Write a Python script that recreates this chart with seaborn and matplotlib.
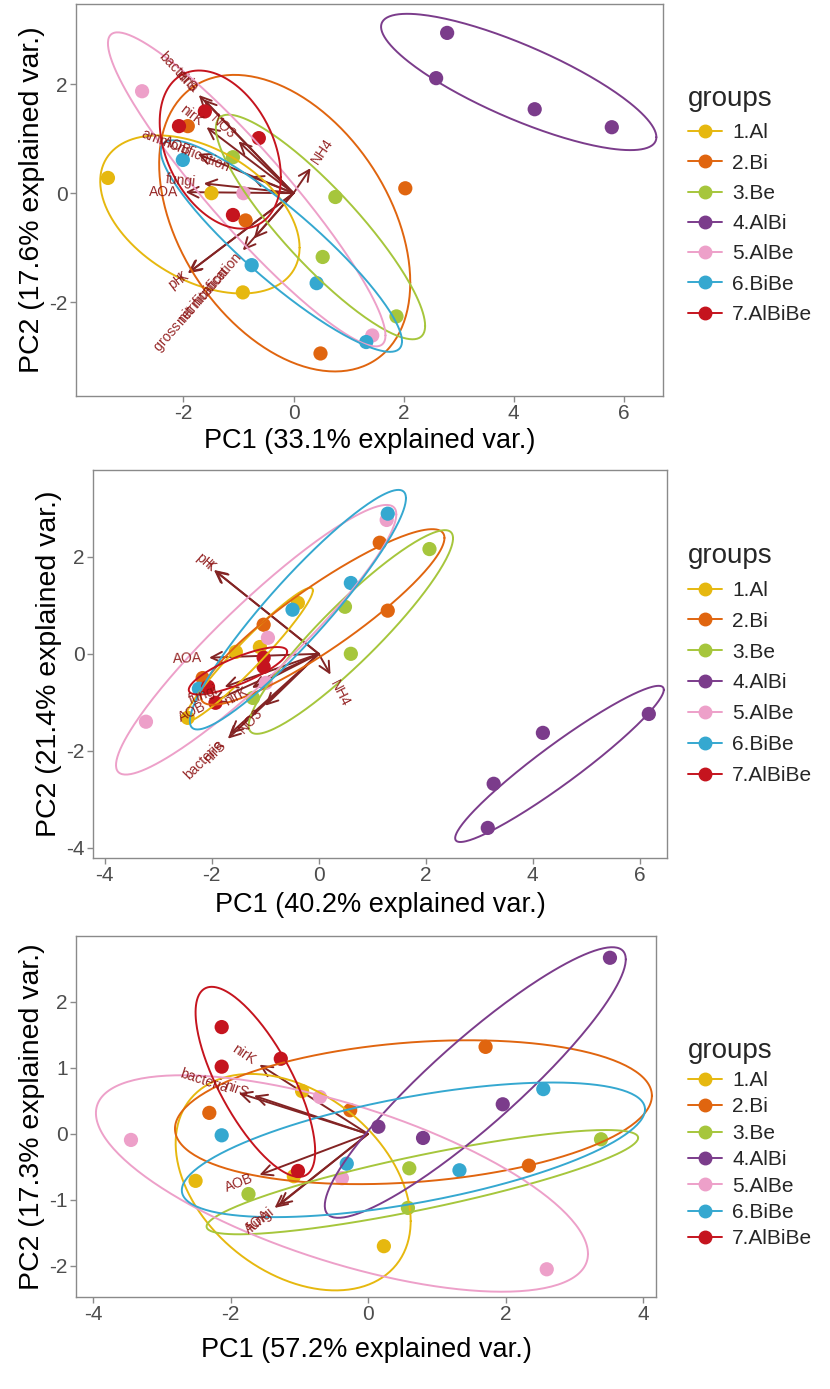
import numpy as np
import pandas as pd
import matplotlib
matplotlib.use("Agg")
import matplotlib.pyplot as plt
from matplotlib.lines import Line2D
from matplotlib.transforms import offset_copy
from matplotlib.font_manager import FontProperties
import seaborn as sns

sns.set_theme(style="white")
plt.rcParams["font.family"] = ["Liberation Sans", "DejaVu Sans"]
plt.rcParams["axes.unicode_minus"] = False

GROUPS = ["1.Al", "2.Bi", "3.Be", "4.AlBi", "5.AlBe", "6.BiBe", "7.AlBiBe"]
COLORS = ["#E6B80F", "#E0650F", "#A6C63C", "#7B3C8B", "#EDA0C9", "#35A8D0", "#C5141E"]
ARROW_COLOR = "#832424"
LABEL_COLOR = "#8B1010"

# ---------------- panel A ----------------
a_group = (["1.Al"] * 3 + ["2.Bi"] * 4 + ["3.Be"] * 4 + ["4.AlBi"] * 4
           + ["5.AlBe"] * 3 + ["6.BiBe"] * 4 + ["7.AlBiBe"] * 4)
a_pc1 = [-3.37, -1.49, -0.92,
         -1.92, -0.87, 2.03, 0.49,
         -1.10, 0.76, 0.53, 1.87,
         2.79, 2.59, 4.38, 5.78,
         -2.75, -0.91, 1.43,
         -2.01, -0.76, 0.42, 1.32,
         -2.08, -1.61, -0.63, -1.10]
a_pc2 = [0.28, 0.00, -1.82,
         1.23, -0.50, 0.09, -2.94,
         0.66, -0.07, -1.17, -2.26,
         2.94, 2.11, 1.54, 1.21,
         1.87, 0.00, -2.61,
         0.61, -1.32, -1.65, -2.73,
         1.23, 1.50, 1.01, -0.40]
# group ellipses: centre, half-extent along PC1 / PC2, correlation
a_ell_cx = [-1.70, -0.16, 0.49, 4.09, -0.85, -0.22, -1.33]
a_ell_cy = [-0.39, -0.55, -0.62, 2.04, 0.07, -0.97, 0.80]
a_ell_rx = [1.81, 2.28, 1.90, 2.50, 2.52, 2.19, 1.10]
a_ell_ry = [1.45, 2.72, 2.06, 1.25, 2.88, 1.94, 1.45]
a_ell_rho = [-0.42, -0.40, -0.88, -0.81, -0.93, -0.90, -0.35]
a_var = ["bacteria", "nirS", "nirK", "NO3", "ammonification", "AOB",
         "fungi", "AOA", "NH4", "pH", "K",
         "gross nitrification", "net nitrification"]
a_load1 = [-1.63, -1.72, -1.58, -1.00, -0.78, -1.74, -1.63, -1.96,
           0.31, -1.92, -1.90, -0.92, -0.72]
a_load2 = [1.72, 1.80, 1.21, 0.95, 0.31, 0.72, 0.18, 0.02,
           0.46, -1.47, -1.455, -1.05, -0.83]

# ---------------- panel B ----------------
b_group = (["1.Al"] * 4 + ["2.Bi"] * 4 + ["3.Be"] * 4 + ["4.AlBi"] * 4
           + ["5.AlBe"] * 4 + ["6.BiBe"] * 4 + ["7.AlBiBe"] * 4)
b_pc1 = [-0.39, -1.10, -1.55, -2.45,
         1.14, 1.29, -1.03, -2.17,
         2.07, 0.49, 0.60, -1.23,
         6.17, 4.19, 3.27, 3.16,
         1.27, -0.95, -0.99, -3.23,
         1.29, 0.60, -0.49, -2.24,
         -1.03, -1.03, -2.07, -1.93]
b_pc2 = [1.05, 0.14, 0.04, -1.32,
         2.29, 0.89, 0.60, -0.50,
         2.16, 0.97, 0.00, -0.91,
         -1.24, -1.63, -2.68, -3.59,
         2.76, 0.33, -0.60, -1.40,
         2.89, 1.46, 0.91, -0.72,
         -0.08, -0.27, -0.68, -1.01]
b_ell_cx = [-1.31, 0.07, 0.60, 4.50, -1.17, -0.39, -1.51]
b_ell_cy = [-0.02, 0.76, 0.45, -2.27, 0.29, 0.91, -0.35]
b_ell_rx = [1.20, 2.28, 1.91, 1.95, 2.62, 2.02, 0.92]
b_ell_ry = [1.38, 1.81, 2.10, 1.61, 2.78, 2.47, 0.49]
b_ell_rho = [0.96, 0.90, 0.92, 0.95, 0.93, 0.93, 0.80]
b_var = ["pH", "K", "AOA", "fungi", "AOB", "nirK", "nirS", "bacteria",
         "NO3", "NH4"]
b_load1 = [-1.96, -1.94, -2.05, -1.76, -2.00, -1.25, -1.70, -1.66, -1.00, 0.22]
b_load2 = [1.73, 1.715, -0.08, -0.68, -1.00, -0.70, -1.75, -1.65, -1.07, -0.43]

# ---------------- panel C ----------------
c_group = (["1.Al"] * 4 + ["2.Bi"] * 4 + ["3.Be"] * 4 + ["4.AlBi"] * 4
           + ["5.AlBe"] * 4 + ["6.BiBe"] * 4 + ["7.AlBiBe"] * 4)
c_pc1 = [-0.96, -2.51, -1.08, 0.23,
         -2.31, -0.26, 1.71, 2.34,
         -1.74, 0.60, 0.58, 3.39,
         3.52, 1.96, 0.80, 0.15,
         -3.45, -0.70, -0.38, 2.60,
         -2.13, -0.31, 1.33, 2.55,
         -2.13, -1.27, -2.13, -1.02]
c_pc2 = [0.65, -0.71, -0.64, -1.70,
         0.32, 0.36, 1.32, -0.48,
         -0.91, -0.52, -1.12, -0.08,
         2.67, 0.45, -0.06, 0.11,
         -0.09, 0.56, -0.67, -2.05,
         -0.02, -0.45, -0.55, 0.68,
         1.62, 1.14, 1.02, -0.56]
c_ell_cx = [-1.09, 0.66, 0.79, 1.56, -0.38, 0.66, -1.64]
c_ell_cy = [-0.73, 0.33, -0.73, 0.78, -0.75, -0.24, 0.79]
c_ell_rx = [1.71, 3.47, 3.14, 2.19, 3.58, 3.37, 0.87]
c_ell_ry = [1.64, 1.09, 0.79, 2.05, 1.64, 1.02, 1.44]
c_ell_rho = [-0.36, 0.23, 0.85, 0.91, -0.65, 0.60, -0.73]
c_var = ["nirK", "bacteria", "nirS", "AOB", "AOA", "fungi"]
c_load1 = [-1.58, -1.88, -1.66, -1.58, -1.36, -1.30]
c_load2 = [1.05, 0.62, 0.58, -0.62, -1.12, -1.08]

W, H = 830, 1389
fig = plt.figure(figsize=(W / 100, H / 100), dpi=100)
fig.patch.set_facecolor("white")
renderer = fig.canvas.get_renderer()
label_font = FontProperties(family=["Liberation Sans", "DejaVu Sans"], size=10)


def axes_px(l, t, r, b):
    return fig.add_axes([l / W, 1 - b / H, (r - l) / W, (b - t) / H])


def ellipse_xy(cx, cy, rx, ry, rho, n=240):
    t = np.linspace(0, 2 * np.pi, n)
    x = cx + rx * np.cos(t)
    y = cy + ry * (rho * np.cos(t) + np.sqrt(1 - rho ** 2) * np.sin(t))
    return x, y


def biplot(ax, grp, pc1, pc2, ell, var, l1, l2, xlab, ylab, xlim, ylim,
           xticks, yticks, legend_y, legend_spacing, xpad):
    scores = pd.DataFrame({"PC1": pc1, "PC2": pc2, "groups": grp})
    ax.set_xlim(*xlim)
    ax.set_ylim(*ylim)

    # loading arrows
    for lx, ly in zip(l1, l2):
        ax.annotate("", xy=(lx, ly), xytext=(0, 0),
                    arrowprops=dict(arrowstyle="->,head_length=0.65,head_width=0.32",
                                    color=ARROW_COLOR, lw=1.4,
                                    shrinkA=0, shrinkB=0),
                    zorder=2)

    sns.scatterplot(data=scores, x="PC1", y="PC2", hue="groups",
                    hue_order=GROUPS, palette=COLORS, s=105, linewidth=0,
                    legend=False, ax=ax, zorder=3)

    for col, cx, cy, rx, ry, rho in zip(COLORS, *ell):
        ex, ey = ellipse_xy(cx, cy, rx, ry, rho)
        ax.plot(ex, ey, color=col, lw=1.4, zorder=4)

    # variable names, set beyond the arrow tips
    for name, lx, ly in zip(var, l1, l2):
        ang = np.degrees(np.arctan(ly / lx))
        w, _, _ = renderer.get_text_width_height_descent(name, label_font, ismath=False)
        u = np.array([np.cos(np.radians(ang)), np.sin(np.radians(ang))])
        shift = 0.25 * w
        if lx < 0:
            ha, off = "right", -shift * u
        else:
            ha, off = "left", shift * u
        tr = offset_copy(ax.transData, fig=fig, x=off[0], y=off[1], units="dots")
        ax.text(lx, ly, name, rotation=ang, rotation_mode="anchor", ha=ha,
                va="center", color=LABEL_COLOR, fontproperties=label_font,
                transform=tr, zorder=5, alpha=0.9)

    ax.set_xticks(xticks)
    ax.set_yticks(yticks)
    ax.set_xlabel(xlab, fontsize=19.5, color="black", labelpad=xpad)
    ax.set_ylabel(ylab, fontsize=20.5, color="black", labelpad=3)
    ax.tick_params(axis="both", direction="out", length=4, width=1,
                   color="#8A8A8A", labelcolor="#4D4D4D", labelsize=15,
                   bottom=True, left=True, pad=2)
    for sp in ax.spines.values():
        sp.set_color("#8A8A8A")
        sp.set_linewidth(1.0)
    ax.set_facecolor("white")

    handles = [Line2D([0], [0], color=c, marker="o", markersize=9, lw=1.4)
               for c in COLORS]
    fig.legend(handles, GROUPS, title="groups", loc="center left",
               bbox_to_anchor=(680 / W, 1 - legend_y / H), frameon=False,
               fontsize=15, title_fontsize=20, alignment="left",
               labelspacing=legend_spacing, handlelength=1.6,
               handletextpad=0.5, borderaxespad=0)


axA = axes_px(76, 4, 663, 396)
biplot(axA, a_group, a_pc1, a_pc2,
       (a_ell_cx, a_ell_cy, a_ell_rx, a_ell_ry, a_ell_rho),
       a_var, a_load1, a_load2,
       "PC1 (33.1% explained var.)", "PC2 (17.6% explained var.)",
       (-3.95, 6.71), (-3.72, 3.47), [-2, 0, 2, 4, 6], [-2, 0, 2],
       205, 0.54, 3)

axB = axes_px(93, 470, 667, 858)
biplot(axB, b_group, b_pc1, b_pc2,
       (b_ell_cx, b_ell_cy, b_ell_rx, b_ell_ry, b_ell_rho),
       b_var, b_load1, b_load2,
       "PC1 (40.2% explained var.)", "PC2 (21.4% explained var.)",
       (-4.22, 6.51), (-4.21, 3.79), [-4, -2, 0, 2, 4, 6], [-4, -2, 0, 2],
       664, 0.57, 5)

axC = axes_px(76, 936, 656, 1297)
biplot(axC, c_group, c_pc1, c_pc2,
       (c_ell_cx, c_ell_cy, c_ell_rx, c_ell_ry, c_ell_rho),
       c_var, c_load1, c_load2,
       "PC1 (57.2% explained var.)", "PC2 (17.3% explained var.)",
       (-4.25, 4.19), (-2.47, 3.0), [-4, -2, 0, 2, 4], [-2, -1, 0, 1, 2],
       1143, 0.355, 9)

fig.savefig("out.png", dpi=100, facecolor="white")
